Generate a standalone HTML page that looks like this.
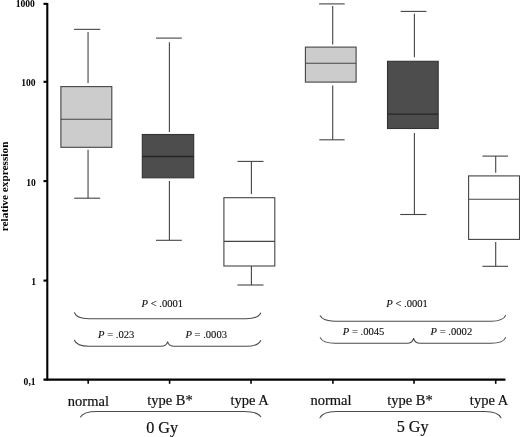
<!DOCTYPE html>
<html>
<head>
<meta charset="utf-8">
<title>Box plot</title>
<style>
  html, body { margin: 0; padding: 0; background: #ffffff; }
  body { width: 520px; height: 437px; overflow: hidden; font-family: "Liberation Serif", serif; }
  svg { display: block; will-change: transform; }
  text { font-family: "Liberation Serif", serif; fill: #111; }
  .tl { font-weight: bold; font-size: 9.6px; text-anchor: end; fill: #000; }
  .yl { font-weight: bold; font-size: 11.3px; text-anchor: middle; fill: #000; }
  .xl { font-size: 14.5px; text-anchor: middle; stroke: #111; stroke-width: 0.2px; }
  .gl { font-size: 16.2px; text-anchor: middle; stroke: #111; stroke-width: 0.2px; }
  .pl { font-size: 10.6px; stroke: #111; stroke-width: 0.12px; }
  .pl .i { font-style: italic; }
  .ln { stroke: #444; stroke-width: 1.1; fill: none; }
  .br { stroke: #4a4a4a; stroke-width: 1.05; fill: none; stroke-linecap: round; }
  .ax { stroke: #000; stroke-width: 2.1; fill: none; }
  .tk { stroke: #000; stroke-width: 1.6; fill: none; }
</style>
</head>
<body>
<svg width="520" height="437" viewBox="0 0 520 437">
  <rect x="0" y="0" width="520" height="437" fill="#ffffff"/>

  <!-- axes -->
  <line class="ax" x1="47.3" y1="2.9" x2="47.3" y2="380.6"/>
  <line class="ax" x1="43.5" y1="379.65" x2="505.5" y2="379.65"/>
  <!-- y ticks -->
  <line class="ax" x1="43.5" y1="3.85" x2="47.3" y2="3.85"/>
  <line class="ax" x1="43.5" y1="81.8" x2="47.3" y2="81.8"/>
  <line class="ax" x1="43.5" y1="181.1" x2="47.3" y2="181.1"/>
  <line class="ax" x1="43.5" y1="280.6" x2="47.3" y2="280.6"/>
  <!-- x ticks -->
  <line class="tk" x1="88.2" y1="379.6" x2="88.2" y2="383.8"/>
  <line class="tk" x1="169.6" y1="379.6" x2="169.6" y2="383.8"/>
  <line class="tk" x1="251" y1="379.6" x2="251" y2="383.8"/>
  <line class="tk" x1="332.9" y1="379.6" x2="332.9" y2="383.8"/>
  <line class="tk" x1="414" y1="379.6" x2="414" y2="383.8"/>
  <line class="tk" x1="495.7" y1="379.6" x2="495.7" y2="383.8"/>

  <!-- y tick labels -->
  <text class="tl" x="34.9" y="6.7">1000</text>
  <text class="tl" x="35.6" y="85.9">100</text>
  <text class="tl" x="35.8" y="185.7">10</text>
  <text class="tl" x="36.1" y="284.9">1</text>
  <text class="tl" x="35.6" y="384.5">0,1</text>
  <text class="yl" transform="translate(8.4,186.4) rotate(-90)">relative expression</text>

  <!-- box 1: normal 0 Gy -->
  <rect x="60.9" y="86.6" width="50.9" height="60.7" fill="#cccccc" stroke="#444" stroke-width="1.1"/>
  <line class="ln" x1="60.9" y1="119.3" x2="111.8" y2="119.3"/>
  <line class="ln" x1="74.1" y1="29.35" x2="100.3" y2="29.35"/>
  <line class="ln" x1="88.05" y1="32" x2="88.05" y2="83"/>
  <line class="ln" x1="88.05" y1="149.7" x2="88.05" y2="198.2"/>
  <line class="ln" x1="74.2" y1="198.2" x2="100.2" y2="198.2"/>

  <!-- box 2: type B* 0 Gy -->
  <rect x="142.3" y="134.5" width="51.4" height="43.3" fill="#4d4d4d" stroke="#333" stroke-width="1.1"/>
  <line x1="142.3" y1="156.5" x2="193.7" y2="156.5" stroke="#262626" stroke-width="1.4"/>
  <line class="ln" x1="156" y1="38.1" x2="181.8" y2="38.1"/>
  <line class="ln" x1="169.4" y1="42.3" x2="169.4" y2="131.9"/>
  <line class="ln" x1="169.4" y1="181" x2="169.4" y2="240.3"/>
  <line class="ln" x1="156" y1="240.3" x2="181.8" y2="240.3"/>

  <!-- box 3: type A 0 Gy -->
  <rect x="223.9" y="197.7" width="50.9" height="68.3" fill="#ffffff" stroke="#444" stroke-width="1.1"/>
  <line class="ln" x1="223.9" y1="241.4" x2="274.8" y2="241.4"/>
  <line class="ln" x1="237.5" y1="161.4" x2="263.5" y2="161.4"/>
  <line class="ln" x1="251.4" y1="161.4" x2="251.4" y2="194"/>
  <line class="ln" x1="251.4" y1="266" x2="251.4" y2="285"/>
  <line class="ln" x1="237.5" y1="285" x2="263.5" y2="285"/>

  <!-- box 4: normal 5 Gy -->
  <rect x="305.4" y="47.1" width="50.7" height="35" fill="#cccccc" stroke="#444" stroke-width="1.1"/>
  <line class="ln" x1="305.4" y1="63.2" x2="356.1" y2="63.2"/>
  <line class="ln" x1="319.1" y1="3.9" x2="344.7" y2="3.9"/>
  <line class="ln" x1="332.7" y1="6.1" x2="332.7" y2="44.6"/>
  <line class="ln" x1="332.7" y1="85.6" x2="332.7" y2="139.8"/>
  <line class="ln" x1="319.3" y1="139.8" x2="344.6" y2="139.8"/>

  <!-- box 5: type B* 5 Gy -->
  <rect x="387.5" y="61.3" width="50.7" height="67.2" fill="#4d4d4d" stroke="#333" stroke-width="1.1"/>
  <line x1="387.5" y1="114.1" x2="438.2" y2="114.1" stroke="#262626" stroke-width="1.4"/>
  <line class="ln" x1="400.6" y1="11.4" x2="426.4" y2="11.4"/>
  <line class="ln" x1="414.4" y1="13.7" x2="414.4" y2="57.3"/>
  <line class="ln" x1="414.4" y1="133.1" x2="414.4" y2="214.5"/>
  <line class="ln" x1="400.2" y1="214.5" x2="426.4" y2="214.5"/>

  <!-- box 6: type A 5 Gy -->
  <rect x="468.6" y="175.9" width="50.9" height="63.5" fill="#ffffff" stroke="#444" stroke-width="1.1"/>
  <line class="ln" x1="468.6" y1="199.3" x2="519.5" y2="199.3"/>
  <line class="ln" x1="482.5" y1="156.1" x2="508" y2="156.1"/>
  <line class="ln" x1="495.7" y1="156.1" x2="495.7" y2="172.8"/>
  <line class="ln" x1="495.7" y1="242" x2="495.7" y2="266.3"/>
  <line class="ln" x1="482.5" y1="266.3" x2="508" y2="266.3"/>

  <!-- P-value braces, left group -->
  <path class="br" d="M74.4,312.8 C76,316.8 81,318.7 89,318.7 L246,318.7 C254,318.7 259,316.8 260.7,313"/>
  <path class="br" d="M74.4,340.3 C76,344.4 81,346.3 89,346.3 L161,346.3 C164.5,346.3 166.8,345 167.6,341.6 C168.4,345 170.7,346.3 174.2,346.3 L246,346.3 C254,346.3 259,344.4 260.7,340.5"/>
  <text class="pl" x="141.5" y="306.8"><tspan class="i">P</tspan> &lt; .0001</text>
  <text class="pl" x="98" y="337.9"><tspan class="i">P</tspan> = .023</text>
  <text class="pl" x="185.4" y="337.7"><tspan class="i">P</tspan> = .0003</text>

  <!-- P-value braces, right group -->
  <path class="br" d="M320.2,315.8 C322,319.4 327,321.2 335,321.2 L491,321.2 C499,321.2 504,319.4 505.6,315.4"/>
  <path class="br" d="M320.2,337.6 C322,341.4 327,343.2 335,343.2 L407,343.2 C410.5,343.2 412.8,341.9 413.6,338.1 C414.4,341.9 416.7,343.2 420.2,343.2 L491,343.2 C499,343.2 504,341.4 505.6,337.6"/>
  <text class="pl" x="386.3" y="306.5"><tspan class="i">P</tspan> &lt; .0001</text>
  <text class="pl" x="342.8" y="335.2"><tspan class="i">P</tspan> = .0045</text>
  <text class="pl" x="430.6" y="335.3"><tspan class="i">P</tspan> = .0002</text>

  <!-- x labels -->
  <text class="xl" x="88.4" y="405.5">normal</text>
  <text class="xl" x="169.9" y="405.3">type B*</text>
  <text class="xl" x="249.6" y="405.3">type A</text>
  <text class="xl" x="331" y="405.4">normal</text>
  <text class="xl" x="410" y="405.3">type B*</text>
  <text class="xl" x="489" y="405.3">type A</text>

  <!-- group braces -->
  <path class="br" d="M80.5,417 C82.5,413.4 88,411.5 97,411.5 L244,411.5 C253,411.5 258.5,413.4 260.8,416.8"/>
  <path class="br" d="M320,417.8 C322,413.6 327.5,411.5 336,411.5 L485,411.5 C493.5,411.5 499,413.6 501,417.8"/>
  <text class="gl" x="162.1" y="433">0 Gy</text>
  <text class="gl" x="412.7" y="432.4">5 Gy</text>
</svg>
</body>
</html>
